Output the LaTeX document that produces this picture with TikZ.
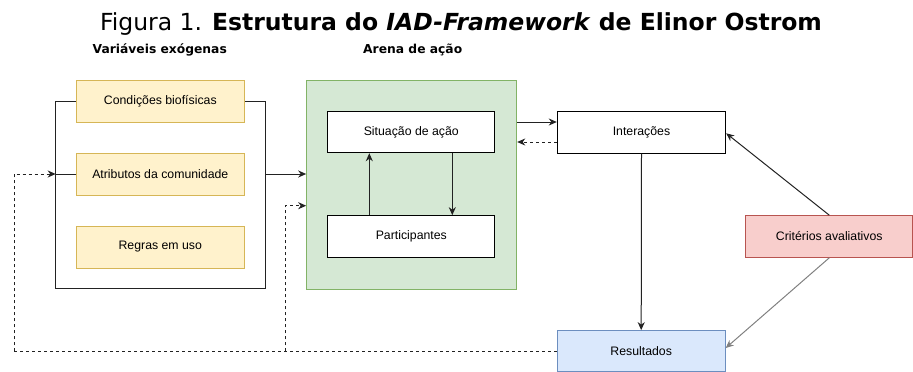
\documentclass[tikz,border=0pt]{standalone}
\usepackage{fontspec}
\setmainfont{Liberation Sans}
\newfontfamily\titlefont{DejaVu Sans}
\usetikzlibrary{arrows.meta}
\definecolor{yfill}{HTML}{FFF2CC}
\definecolor{ydraw}{HTML}{D6B656}
\definecolor{gfill}{HTML}{D5E8D4}
\definecolor{gdraw}{HTML}{82B366}
\definecolor{bfill}{HTML}{DAE8FC}
\definecolor{bdraw}{HTML}{6C8EBF}
\definecolor{rfill}{HTML}{F8CECC}
\definecolor{rdraw}{HTML}{B85450}
\definecolor{linec}{HTML}{222222}
\tikzset{
  box/.style={draw, line width=1pt, minimum width=168pt, minimum height=42pt, inner sep=0pt, font=\fontsize{12.3pt}{14pt}\selectfont},
  ybox/.style={box, fill=yfill, draw=ydraw},
  wbox/.style={box, fill=white, draw=black},
  conn/.style={line width=1pt, draw=linec},
  arr/.style={conn, -{Stealth[length=8pt,width=7pt,inset=2.5pt]}},
  darr/.style={arr, dash pattern=on 3pt off 3pt},
  dline/.style={conn, dash pattern=on 3pt off 3pt},
  hdr/.style={font=\titlefont\bfseries\fontsize{12.3pt}{14pt}\selectfont, inner sep=0pt, anchor=base west},
}
\begin{document}
\begin{tikzpicture}[x=1pt,y=-1pt]
\useasboundingbox (0,0) rectangle (913,372);
% title
\node[inner sep=0pt, anchor=base] (title) at (461,30)
  {\titlefont\fontsize{23.5pt}{26pt}\selectfont Figura 1. \textbf{Estrutura do \textit{IAD-Framework} de Elinor Ostrom}};
\node[hdr] (hvar) at (92.5,53) {Variáveis exógenas};
\node[hdr] (harena) at (363,53) {Arena de ação};
% exogenous
\node[ybox] (cond) at (160.3,101) {Condições biofísicas};
\node[ybox] (atrib) at (160.3,174) {Atributos da comunidade};
\node[ybox] (regras) at (160.3,247) {Regras em uso};
\coordinate (tl) at (55.7,101);
\coordinate (tr) at (265,101);
\coordinate (bl) at (55.7,288);
\coordinate (br) at (265,288);
\coordinate (ml) at (55.7,174);
\coordinate (mr) at (265,174);
\draw[conn] (cond.west) -- (tl) -- (bl) -- (br) -- (tr) -- (cond.east);
\draw[conn] (atrib.west) -- (ml);
% arena
\node[box, fill=gfill, draw=gdraw, minimum width=210pt, minimum height=209pt] (arena) at (411.7,184.5) {};
\node[wbox, minimum width=167.3pt, minimum height=41pt] (sit) at (411.3,132.2) {Situação de ação};
\node[wbox, minimum width=167.3pt, minimum height=41.6pt] (part) at (411.3,236.5) {Participantes};
\draw[arr] (mr) -- (arena.west |- mr);
\coordinate (upx) at (369.3,0);
\coordinate (dnx) at (452.3,0);
\draw[arr] (part.north -| upx) -- (sit.south -| upx);
\draw[arr] (sit.south -| dnx) -- (part.north -| dnx);
% right side
\node[wbox, minimum width=168.4pt, minimum height=41.7pt] (inter) at (641.5,132.2) {Interações};
\node[box, fill=bfill, draw=bdraw, minimum height=41.3pt] (res) at (641.2,351.3) {Resultados};
\node[box, fill=rfill, draw=rdraw, minimum width=167pt, minimum height=41.6pt] (crit) at (829.3,236.5) {Critérios avaliativos};
\coordinate (ya) at (0,122);
\coordinate (yb) at (0,142);
\draw[arr] (arena.east |- ya) -- (inter.west |- ya);
\draw[darr] (inter.west |- yb) -- (arena.east |- yb);
\draw[arr] (inter.south) -- (res.north);
\coordinate (yc) at (0,133.3);
\coordinate (yd) at (0,348);
\draw[arr] (crit.north) -- (inter.east |- yc);
\draw[arr, draw=gray] (crit.south) -- (res.east |- yd);
% feedback dotted
\coordinate (fb1) at (14,351.3);
\coordinate (fb2) at (285.7,351.3);
\coordinate (fb2t) at (285.7,205.7);
\draw[dline] (res.west) -- (fb1);
\draw[darr] (fb1) -- (fb1 |- ml) -- (ml);
\draw[darr] (fb2) -- (fb2t) -- (arena.west |- fb2t);
\end{tikzpicture}
\end{document}
